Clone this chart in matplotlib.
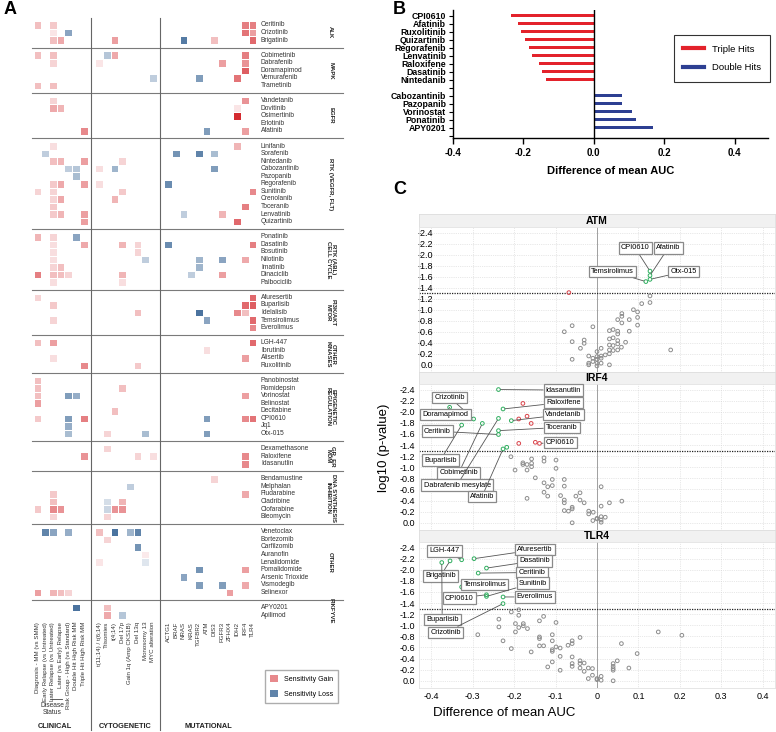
import numpy as np
import matplotlib
matplotlib.use('Agg')
import matplotlib.pyplot as plt
from matplotlib.colors import LinearSegmentedColormap
from matplotlib.patches import Patch
from matplotlib.lines import Line2D

plt.rcParams['font.family'] = ['Liberation Sans', 'DejaVu Sans']

# =========================
# PANEL A DATA
# =========================
clin_keys = ['dx', 'er', 'lr', 'le', 'rg', 'dh', 'th']
clin_labels = ['Diagnosis - MM (vs SMM)', 'Early Relapse (vs Untreated)', 'Later Relapse (vs Untreated)',
               'Later (vs Early) Relapse', 'Risk Group - High (vs Standard)', 'Double Hit High Risk MM',
               'Triple Hit High Risk MM']
cyto_keys = ['t1114', 'tri', 't414', 'd17p', 'g1q', 'd13q', 'mono13', 'myc']
cyto_labels = ['t(11;14) / t(6;14)', 'Trisomies', 't(4;14)', 'Del 17p', 'Gain 1q (Amp CKS1B)', 'Del 13q',
               'Monosomy 13', 'MYC alteration']
mut_keys = ['ACTG1', 'BRAF', 'NRAS', 'KRAS', 'TGFBR2', 'ATM', 'DIS3', 'FGFR3', 'ZFHX4', 'IDH2', 'IRF4', 'TLR4']

groups = [
    ('ALK', ['Ceritinib', 'Crizotinib', 'Brigatinib']),
    ('MAPK', ['Cobimetinib', 'Dabrafenib', 'Doramapimod', 'Vemurafenib', 'Trametinib']),
    ('EGFR', ['Vandetanib', 'Dovitinib', 'Osimertinib', 'Erlotinib', 'Afatinib']),
    ('RTK (VEGFR, FLT)', ['Linifanib', 'Sorafenib', 'Nintedanib', 'Cabozantinib', 'Pazopanib', 'Regorafenib',
                          'Sunitinib', 'Crenolanib', 'Toceranib', 'Lenvatinib', 'Quizartinib']),
    ('RTK (ABL)\nCELL CYCLE', ['Ponatinib', 'Dasatinib', 'Bosutinib', 'Nilotinib', 'Imatinib', 'Dinaciclib',
                              'Palbociclib']),
    ('PI3K/AKT\nMTOR', ['Afuresertib', 'Buparlisib', 'Idelalisib', 'Temsirolimus', 'Everolimus']),
    ('OTHER\nKINASES', ['LGH-447', 'Ibrutinib', 'Alisertib', 'Ruxolitinib']),
    ('EPIGENETIC\nREGULATION', ['Panobinostat', 'Romidepsin', 'Vorinostat', 'Belinostat', 'Decitabine',
                               'CPI0610', 'Jq1', 'Otx-015']),
    ('GR, ER\nMDM', ['Dexamethasone', 'Raloxifene', 'Idasanutlin']),
    ('DNA SYNTHESIS\nINHIBITION', ['Bendamustine', 'Melphalan', 'Fludarabine', 'Cladribine', 'Clofarabine',
                                  'Bleomycin']),
    ('OTHER', ['Venetoclax', 'Bortezomib', 'Carfilzomib', 'Auranofin', 'Lenalidomide', 'Pomalidomide',
               'Arsenic Trioxide', 'Vismodegib', 'Selinexor']),
    ('PIKFYVE', ['APY0201', 'Apilimod']),
]

# + = sensitivity gain, - = sensitivity loss
cells = {
    'Ceritinib': {'dx': .3, 'lr': .25, 'IRF4': .6, 'TLR4': .6},
    'Crizotinib': {'lr': .12, 'rg': -.55, 'IRF4': .65, 'TLR4': .45},
    'Brigatinib': {'lr': .3, 'le': .4, 't414': .45, 'NRAS': -.8, 'DIS3': .3, 'TLR4': .7},
    'Cobimetinib': {'dx': .3, 'lr': .3, 'tri': -.35, 't414': .4, 'IRF4': .6},
    'Dabrafenib': {'lr': .2, 't1114': .12, 'FGFR3': .45, 'IRF4': .5},
    'Doramapimod': {'IRF4': .75},
    'Vemurafenib': {'myc': -.3, 'TGFBR2': -.6, 'IDH2': .65},
    'Trametinib': {'dx': .3, 'lr': .3},
    'Vandetanib': {'lr': .2, 'IRF4': .5},
    'Dovitinib': {'lr': .4, 'le': .35, 'IDH2': .12},
    'Osimertinib': {'IDH2': 1.0},
    'Erlotinib': {},
    'Afatinib': {'th': .55, 'ATM': -.6, 'IRF4': .45},
    'Linifanib': {'lr': .15, 'IDH2': .35},
    'Sorafenib': {'er': -.3, 'BRAF': -.65, 'TGFBR2': -.75, 'DIS3': -.4},
    'Nintedanib': {'lr': .3, 'le': .35, 'th': .45, 'd17p': .2},
    'Cabozantinib': {'rg': -.3, 'dh': -.35, 't1114': .15, 't414': -.45, 'DIS3': -.6},
    'Pazopanib': {'dh': -.4},
    'Regorafenib': {'lr': .25, 'le': .4, 'th': .45, 't1114': .15, 'ACTG1': -.7},
    'Sunitinib': {'dx': .2, 'lr': .2, 'd17p': .25, 'TLR4': .55},
    'Crenolanib': {'lr': .2, 'le': .4, 't414': .35},
    'Toceranib': {'lr': .25, 'IRF4': .6},
    'Lenvatinib': {'lr': .25, 'le': .35, 'th': .45, 'NRAS': -.3, 'FGFR3': .35},
    'Quizartinib': {'th': .45, 'IDH2': .7},
    'Ponatinib': {'dx': .35, 'lr': .2, 'dh': -.55},
    'Dasatinib': {'lr': .15, 'th': .4, 'd17p': .35, 'd13q': .2, 'ACTG1': -.7, 'TLR4': .6},
    'Bosutinib': {'lr': .15, 'd13q': .2},
    'Nilotinib': {'lr': .15, 'mono13': -.3, 'TGFBR2': -.45, 'FGFR3': -.55, 'IRF4': .4},
    'Imatinib': {'lr': .2, 'le': .3, 'TGFBR2': -.45},
    'Dinaciclib': {'dx': .6, 'lr': .3, 'le': .3, 'rg': .2, 'd17p': .35, 'KRAS': -.3, 'FGFR3': .45},
    'Palbociclib': {'lr': .15, 'd17p': .15},
    'Afuresertib': {'dx': .2, 'TLR4': .7},
    'Buparlisib': {'lr': .25, 'IRF4': .7, 'TLR4': .75},
    'Idelalisib': {'d13q': .3, 'TGFBR2': -.85, 'IDH2': .55, 'IRF4': .3},
    'Temsirolimus': {'lr': .2, 'ATM': -.55, 'TLR4': .7},
    'Everolimus': {'TLR4': .55},
    'LGH-447': {'dx': .3, 'lr': .45, 'TLR4': .7},
    'Ibrutinib': {'ATM': .15},
    'Alisertib': {'lr': .15, 'IRF4': .45},
    'Ruxolitinib': {'th': .55, 'd13q': .25},
    'Panobinostat': {'dx': .3},
    'Romidepsin': {'dx': .3, 'd17p': .3},
    'Vorinostat': {'dx': .3, 'rg': -.6, 'dh': -.5, 'IRF4': .45},
    'Belinostat': {'dx': .45},
    'Decitabine': {'t414': .3},
    'CPI0610': {'dx': .25, 'rg': -.6, 'th': .6, 'ATM': -.6, 'IRF4': .55, 'TLR4': .65},
    'Jq1': {'rg': -.5},
    'Otx-015': {'rg': -.4, 'tri': .2, 'mono13': -.4, 'ATM': -.6},
    'Dexamethasone': {'tri': .2},
    'Raloxifene': {'th': .5, 'd13q': .2, 'myc': .15, 'IRF4': .55},
    'Idasanutlin': {'IRF4': .55},
    'Bendamustine': {'DIS3': .2},
    'Melphalan': {'g1q': -.3},
    'Fludarabine': {'lr': .25, 'IRF4': .4},
    'Cladribine': {'lr': .3, 'tri': -.2, 'd17p': .35},
    'Clofarabine': {'dx': .25, 'lr': .55, 'le': .5, 'tri': -.25, 't414': .5, 'd17p': .5},
    'Bleomycin': {'lr': .2, 'tri': .2},
    'Venetoclax': {'er': -.75, 'lr': -.55, 'rg': -.5, 't1114': .3, 't414': -.85, 'g1q': -.45, 'd13q': -.75},
    'Bortezomib': {'tri': .2},
    'Carfilzomib': {'d13q': -.65},
    'Auranofin': {'mono13': .1},
    'Lenalidomide': {'t1114': .12, 'mono13': -.15},
    'Pomalidomide': {'TGFBR2': -.65, 'IRF4': .45},
    'Arsenic Trioxide': {'NRAS': -.55},
    'Vismodegib': {'TGFBR2': -.6, 'FGFR3': -.6, 'IRF4': .4},
    'Selinexor': {'dx': .45, 'lr': .35, 'le': .3, 'rg': .2, 'ZFHX4': .45},
    'APY0201': {'dh': -.85, 'tri': .3},
    'Apilimod': {'tri': .4, 'd17p': -.35},
}

# =========================
# PANEL B DATA
# =========================
triple_drugs = ['CPI0610', 'Afatinib', 'Ruxolitinib', 'Quizartinib', 'Regorafenib', 'Lenvatinib',
                'Raloxifene', 'Dasatinib', 'Nintedanib']
triple_diff = [-0.234, -0.215, -0.206, -0.196, -0.185, -0.175, -0.156, -0.146, -0.137]
double_drugs = ['Cabozantinib', 'Pazopanib', 'Vorinostat', 'Ponatinib', 'APY0201']
double_diff = [0.079, 0.079, 0.110, 0.120, 0.169]

# =========================
# PANEL C DATA  (difference of mean AUC, log10 p)
# =========================
atm_gray = [(0.128, -1.25), (0.108, -1.11), (0.128, -1.13), (0.088, -1.00), (0.098, -0.96), (0.060, -0.93),
            (0.060, -0.88), (0.098, -0.86), (0.078, -0.82), (0.050, -0.82), (0.060, -0.76), (0.098, -0.72),
            (-0.060, -0.71), (-0.010, -0.69), (-0.079, -0.60), (0.030, -0.62), (0.039, -0.64), (0.050, -0.61),
            (0.050, -0.56), (0.078, -0.61), (0.039, -0.49), (0.030, -0.47), (0.050, -0.44), (0.069, -0.41),
            (-0.060, -0.42), (-0.031, -0.45), (-0.031, -0.39), (0.050, -0.38), (0.039, -0.35), (0.030, -0.36),
            (0.059, -0.32), (-0.040, -0.30), (0.010, -0.30), (0.050, -0.27), (0.039, -0.26), (0.030, -0.27),
            (0.000, -0.24), (0.020, -0.18), (0.030, -0.20), (0.010, -0.16), (-0.020, -0.16), (-0.010, -0.12),
            (0.000, -0.15), (0.000, -0.10), (0.010, -0.12), (-0.060, -0.10), (-0.010, -0.06), (0.000, -0.03),
            (-0.020, -0.03), (0.010, -0.03), (0.030, 0.00), (0.000, 0.02), (-0.020, 0.00), (0.178, -0.27)]
atm_green = [(0.118, -1.51), (0.128, -1.70), (0.128, -1.62), (0.128, -1.55)]
atm_red = [(-0.068, -1.31)]

irf4_gray = [(-0.208, -1.19), (-0.179, -1.08), (-0.179, -1.05), (-0.169, -1.05), (-0.158, -1.15),
             (-0.158, -1.07), (-0.158, -1.01), (-0.128, -1.17), (-0.128, -1.11), (-0.099, -1.13),
             (-0.099, -0.98), (-0.198, -0.95), (-0.169, -0.95), (-0.149, -0.81), (-0.128, -0.72),
             (-0.108, -0.78), (-0.079, -0.78), (-0.119, -0.65), (-0.108, -0.67), (-0.079, -0.66),
             (-0.128, -0.55), (-0.119, -0.48), (-0.169, -0.44), (-0.088, -0.49), (-0.079, -0.41),
             (-0.079, -0.36), (-0.051, -0.48), (-0.041, -0.54), (-0.041, -0.41), (-0.031, -0.36),
             (0.010, -0.65), (-0.060, -0.28), (-0.060, -0.25), (-0.079, -0.22), (-0.069, -0.21),
             (-0.020, -0.21), (-0.020, -0.16), (-0.009, -0.19), (0.010, -0.30), (0.030, -0.36),
             (0.060, -0.39), (-0.060, 0.00), (-0.010, -0.04), (0.000, -0.08), (0.000, -0.07),
             (0.010, -0.05), (0.010, -0.01), (0.020, -0.10), (0.010, -0.11)]
irf4_green = [(-0.356, -2.08), (-0.298, -1.87), (-0.277, -1.79), (-0.327, -1.76), (-0.238, -1.59),
              (-0.238, -1.88), (-0.227, -2.05), (-0.238, -1.66), (-0.207, -1.84), (-0.227, -1.33),
              (-0.218, -1.36), (-0.238, -2.40)]
irf4_red = [(-0.179, -2.15), (-0.189, -1.87), (-0.169, -1.92), (-0.159, -1.79), (-0.189, -1.43),
            (-0.149, -1.45), (-0.139, -1.43)]

tlr4_gray = [(-0.189, -1.28), (-0.207, -1.24), (-0.189, -1.18), (-0.237, -1.11), (-0.129, -1.16),
             (-0.139, -1.08), (-0.099, -1.05), (-0.197, -1.03), (-0.178, -1.03), (-0.178, -0.99),
             (-0.189, -0.96), (-0.237, -0.97), (-0.168, -0.94), (-0.197, -0.88), (-0.288, -0.83),
             (-0.139, -0.79), (-0.139, -0.76), (-0.108, -0.83), (-0.108, -0.72), (-0.041, -0.78),
             (-0.227, -0.72), (-0.060, -0.72), (-0.060, -0.67), (-0.070, -0.64), (-0.139, -0.63),
             (-0.129, -0.63), (-0.099, -0.61), (-0.089, -0.59), (-0.108, -0.56), (-0.108, -0.53),
             (-0.207, -0.58), (-0.159, -0.52), (0.059, -0.67), (-0.089, -0.44), (-0.060, -0.43),
             (0.097, -0.49), (0.148, -0.88), (0.205, -0.82), (0.049, -0.36), (0.039, -0.31),
             (0.039, -0.26), (0.039, -0.22), (0.039, -0.19), (0.077, -0.23), (-0.041, -0.36),
             (-0.041, -0.31), (-0.031, -0.32), (-0.060, -0.31), (-0.060, -0.26), (-0.108, -0.34),
             (-0.119, -0.25), (-0.089, -0.19), (-0.041, -0.23), (-0.031, -0.17), (-0.021, -0.23),
             (-0.011, -0.22), (-0.011, -0.10), (-0.021, -0.04), (0.000, -0.04), (0.000, -0.02),
             (0.010, -0.08), (0.010, -0.01), (0.039, 0.00)]
tlr4_green = [(-0.375, -2.13), (-0.355, -2.16), (-0.327, -2.18), (-0.297, -2.20), (-0.267, -2.03),
              (-0.287, -1.94), (-0.327, -1.69), (-0.267, -1.55), (-0.267, -1.52), (-0.227, -1.51),
              (-0.227, -1.39)]
tlr4_red = []

# labels: (text, which set, index, label x, label y)
atm_labels = [('Temsirolimus', 'g', 0, 0.038, -1.69), ('CPI0610', 'g', 1, 0.092, -2.12),
              ('Afatinib', 'g', 2, 0.172, -2.12), ('Otx-015', 'g', 3, 0.209, -1.69)]
irf4_labels = [('Idasanutlin', 'g', 11, -0.081, -2.39), ('Raloxifene', 'g', 6, -0.081, -2.17),
               ('Vandetanib', 'g', 8, -0.081, -1.95), ('Toceranib', 'g', 7, -0.085, -1.72),
               ('CPI0610', 'r', 6, -0.089, -1.45), ('Crizotinib', 'g', 1, -0.356, -2.26),
               ('Doramapimod', 'g', 0, -0.366, -1.95), ('Ceritinib', 'g', 4, -0.386, -1.65),
               ('Buparlisib', 'g', 3, -0.378, -1.13), ('Cobimetinib', 'g', 2, -0.334, -0.90),
               ('Dabrafenib mesylate', 'g', 5, -0.338, -0.68), ('Afatinib', 'g', 9, -0.278, -0.47)]
tlr4_labels = [('LGH-447', 'g', 2, -0.369, -2.34), ('Afuresertib', 'g', 3, -0.150, -2.36),
               ('Dasatinib', 'g', 4, -0.150, -2.16), ('Ceritinib', 'g', 5, -0.157, -1.95),
               ('Brigatinib', 'g', 1, -0.378, -1.89), ('Temsirolimus', 'g', 6, -0.271, -1.73),
               ('Sunitinib', 'g', 8, -0.155, -1.76), ('CPI0610', 'g', 7, -0.333, -1.49),
               ('Everolimus', 'g', 9, -0.150, -1.51), ('Buparlisib', 'g', 0, -0.374, -1.10),
               ('Crizotinib', 'g', 10, -0.366, -0.87)]

# =========================
# FIGURE
# =========================
W, H = 776, 732
fig = plt.figure(figsize=(W / 100, H / 100), dpi=100)


def rect(l, t, r, b):
    return [l / W, 1 - b / H, (r - l) / W, (b - t) / H]


def fpt(x, y):
    return x / W, 1 - y / H


# ---------- A: heatmap ----------
col_keys = clin_keys + [None] + cyto_keys + [None] + mut_keys
col_labels = clin_labels + [None] + cyto_labels + [None] + mut_keys
row_names = []
group_rows = []
for gi, (gname, drugs) in enumerate(groups):
    if gi > 0:
        row_names.append(None)
    start = len(row_names)
    row_names.extend(drugs)
    group_rows.append((gname, start, len(row_names) - 1))

mat = np.full((len(row_names), len(col_keys)), np.nan)
for r, name in enumerate(row_names):
    if name is None:
        continue
    for k, v in cells[name].items():
        mat[r, col_keys.index(k)] = v

nrow, ncol = mat.shape
axa = fig.add_axes(rect(33.8, 21.2, 256.3, 618.8))
cmap = LinearSegmentedColormap.from_list('gl', ['#2b5b8e', '#ffffff', '#d42a2f'])
# light cell grid
for v in np.arange(-0.5, ncol):
    axa.axvline(v, color='#d4d4d4', lw=0.5, zorder=0)
for v in np.arange(-0.5, nrow):
    axa.axhline(v, color='#d4d4d4', lw=0.5, zorder=0)
axa.pcolormesh(np.arange(ncol + 1) - 0.5, np.arange(nrow + 1) - 0.5, np.ma.masked_invalid(mat),
               cmap=cmap, vmin=-1, vmax=1, edgecolors='white', linewidth=0.4, zorder=1)
axa.set_xlim(-0.5, ncol - 0.5)
axa.set_ylim(nrow - 0.5, -0.5)
axa.set_xticks([])
axa.set_yticks([])
for s in axa.spines.values():
    s.set_visible(False)

for r, name in enumerate(row_names):
    if name is None:
        axa.plot([-0.73, 39.8], [r, r], color='#7a7a7a', lw=0.8, clip_on=False)
    else:
        axa.text(29.1, r, name, fontsize=4.8, va='center', ha='left', color='#333333')
for c, key in enumerate(col_keys):
    if key is None:
        axa.plot([c, c], [-0.92, 93.2], color='#666666', lw=0.8, clip_on=False)
    else:
        axa.text(c, 78.9, col_labels[c], rotation=90, ha='center', va='top', fontsize=4.4, color='#333333')
for gname, r0, r1 in group_rows:
    axa.text(38.2, (r0 + r1) / 2, gname, rotation=-90, ha='center', va='center', fontsize=4.3,
             fontweight='bold', linespacing=1.0, color='#222222')

fig.text(*fpt(52, 709), 'Disease\nStatus', ha='center', va='center', fontsize=4.8, color='#333333',
         linespacing=1.1)
fig.add_artist(Line2D([50 / W, 62 / W], [1 - 699 / H, 1 - 699 / H], color='#444444', lw=0.6))
for txt, x in [('CLINICAL', 55), ('CYTOGENETIC', 125), ('MUTATIONAL', 208)]:
    fig.text(*fpt(x, 727), txt, ha='center', va='center', fontsize=5.3, fontweight='bold', color='#222222')

fig.legend(handles=[Patch(fc=cmap(0.5 + 0.55 / 2), ec='none'), Patch(fc=cmap(0.5 - 0.75 / 2), ec='none')],
           labels=['Sensitivity Gain', 'Sensitivity Loss'], loc='upper left', bbox_to_anchor=fpt(262, 667),
           fontsize=5, frameon=True, fancybox=False, edgecolor='#999999', handlelength=1.1, handleheight=1.1,
           labelspacing=1.0, borderpad=0.7)
fig.text(*fpt(4, 9), 'A', fontsize=13, fontweight='bold', va='center', ha='left')

# ---------- B: bars ----------
red, blue = '#e3222b', '#2d3f92'
axb = fig.add_axes(rect(453, 10, 768, 138))
pos_t = np.arange(len(triple_diff))
pos_d = len(triple_diff) + 1 + np.arange(len(double_diff))
axb.barh(pos_t, triple_diff, height=0.45, color=red)
axb.barh(pos_d, double_diff, height=0.45, color=blue)
nslots = len(triple_diff) + len(double_diff) + 2
axb.set_yticks(np.arange(nslots))
axb.set_yticklabels(triple_drugs + [''] + double_drugs + [''], fontsize=6.3, fontweight='bold')
axb.set_ylim(nslots - 0.7, -0.7)
axb.set_xlim(-0.4, 0.495)
axb.set_xticks([-0.4, -0.2, 0.0, 0.2, 0.4])
axb.set_xticklabels(['-0.4', '-0.2', '0.0', '0.2', '0.4'], fontsize=7, fontweight='bold')
axb.axvline(0, color='black', lw=1)
axb.spines['top'].set_visible(False)
axb.spines['right'].set_visible(False)
axb.spines['left'].set_linewidth(1)
axb.spines['bottom'].set_linewidth(1)
axb.tick_params(axis='y', length=3, width=0.8, pad=2)
axb.tick_params(axis='x', length=4, width=1, pad=3)
axb.set_xlabel('Difference of mean AUC', fontsize=8, fontweight='bold', labelpad=6)
leg = axb.legend(handles=[Line2D([], [], color=red, lw=3), Line2D([], [], color=blue, lw=3)],
                 labels=['Triple Hits', 'Double Hits'], loc='upper left', bbox_to_anchor=(0.686, 0.84),
                 fontsize=6.8, frameon=True, fancybox=False, edgecolor='black', handlelength=2.2,
                 borderpad=1.0, labelspacing=1.0)
leg.get_frame().set_linewidth(0.8)
fig.text(*fpt(393, 9), 'B', fontsize=13, fontweight='bold', va='center', ha='left')

# ---------- C: volcano facets ----------
gcol, grn, rcol = '#8c8c8c', '#2fae5f', '#d9434a'
facets = [
    ('ATM', 214, 227, 372, atm_gray, atm_green, atm_red, atm_labels),
    ('IRF4', 372, 384, 530, irf4_gray, irf4_green, irf4_red, irf4_labels),
    ('TLR4', 530, 542, 688, tlr4_gray, tlr4_green, tlr4_red, tlr4_labels),
]
xt = [-0.4, -0.3, -0.2, -0.1, 0.0, 0.1, 0.2, 0.3, 0.4]
yt = np.arange(-2.4, 0.01, 0.2)
for i, (name, st, top, bot, gray, green, redp, labels) in enumerate(facets):
    sax = fig.add_axes(rect(419, st, 775, top))
    sax.set_facecolor('#f1f1f1')
    sax.set_xticks([])
    sax.set_yticks([])
    for s in sax.spines.values():
        s.set_color('#dddddd')
        s.set_linewidth(0.6)
    sax.text(0.5, 0.5, name, ha='center', va='center', fontsize=7.5, fontweight='bold', transform=sax.transAxes)

    ax = fig.add_axes(rect(419, top, 775, bot))
    ax.set_xlim(-0.43, 0.43)
    ax.set_ylim(0.13, -2.5)
    ax.set_xticks(xt)
    ax.set_yticks(yt)
    ax.set_yticklabels(['%.1f' % v for v in yt], fontsize=6.5)
    if i == 2:
        ax.set_xticklabels(['-0.4', '-0.3', '-0.2', '-0.1', '0', '0.1', '0.2', '0.3', '0.4'], fontsize=6.5)
    else:
        ax.set_xticklabels([])
    ax.tick_params(length=0, pad=3)
    if i == 0:
        # ATM facet keeps its y labels inside the panel
        ax.tick_params(axis='y', pad=-10)
    ax.grid(color='#d2d2d2', lw=0.5, ls=':')
    ax.set_axisbelow(True)
    for s in ax.spines.values():
        s.set_color('#e2e2e2')
        s.set_linewidth(0.6)
    ax.axvline(0, color='#a0a0a0', lw=0.7, zorder=1)
    ax.axhline(-1.3, color='#222222', lw=0.9, ls=(0, (1, 1)), zorder=1)

    for pts, col in [(gray, gcol), (green, grn), (redp, rcol)]:
        if len(pts):
            px, py = zip(*pts)
            ax.scatter(px, py, s=7, facecolors='none', edgecolors=col, linewidths=0.7, zorder=3)

    for txt, which, idx, lx, ly in labels:
        pt = green[idx] if which == 'g' else redp[idx]
        ax.annotate(txt, xy=pt, xytext=(lx, ly), ha='center', va='center', fontsize=5.3, zorder=4,
                    bbox=dict(boxstyle='square,pad=0.3', fc='white', ec='#8a8a8a', lw=0.9),
                    arrowprops=dict(arrowstyle='-', color='#555555', lw=0.6, shrinkA=0, shrinkB=1.5))

fig.text(*fpt(504, 713), 'Difference of mean AUC', ha='center', va='center', fontsize=9.5)
fig.text(*fpt(384, 448), 'log10 (p-value)', ha='center', va='center', rotation=90, fontsize=9.5)
fig.text(*fpt(393, 190), 'C', fontsize=13, fontweight='bold', va='center', ha='left')

fig.savefig('out.png', dpi=100)
